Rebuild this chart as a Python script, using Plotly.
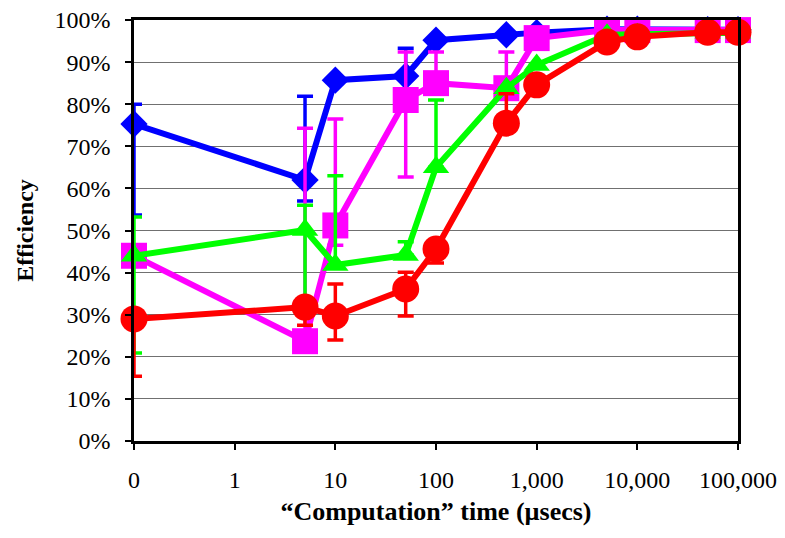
import plotly.graph_objects as go

x_vals = [0.1, 5, 10, 50, 100, 500, 1000, 5000, 10000, 50000, 100000]

blue_y = [0.753, 0.620, 0.857, 0.867, 0.952, 0.965, 0.970, 0.978, 0.978, 0.977, 0.977]
blue_plus = [0.047, 0.199, 0, 0.066, 0, 0, 0, 0, 0, 0, 0]
blue_minus = [0.216, 0.050, 0, 0, 0, 0, 0, 0, 0, 0, 0]

mag_y = [0.440, 0.237, 0.512, 0.810, 0.850, 0.838, 0.957, 0.976, 0.976, 0.976, 0.976]
mag_plus = [0, 0.506, 0.253, 0.114, 0.074, 0.086, 0, 0, 0, 0, 0]
mag_minus = [0, 0, 0.047, 0.183, 0, 0, 0, 0, 0, 0, 0]

green_y = [0.440, 0.501, 0.418, 0.442, 0.650, 0.838, 0.893, 0.965, 0.966, 0.970, 0.970]
green_plus = [0.092, 0.059, 0.212, 0.031, 0.160, 0, 0, 0, 0, 0, 0]
green_minus = [0.231, 0.200, 0, 0, 0, 0, 0, 0, 0, 0, 0]

red_y = [0.290, 0.318, 0.297, 0.361, 0.456, 0.755, 0.846, 0.948, 0.960, 0.971, 0.971]
red_plus = [0, 0, 0.076, 0.040, 0, 0.070, 0, 0, 0, 0, 0]
red_minus = [0.136, 0.043, 0.057, 0.064, 0.033, 0, 0, 0, 0, 0, 0]

x_tickvals = [0.1, 1, 10, 100, 1000, 10000, 100000]
x_ticktext = ["0", "1", "10", "100", "1,000", "10,000", "100,000"]
y_tickvals = [i / 10 for i in range(11)]

series = [
    ("blue", "#0000FF", "diamond", 21, blue_y, blue_plus, blue_minus),
    ("magenta", "#FF00FF", "square", 26, mag_y, mag_plus, mag_minus),
    ("green", "#00FF00", "triangle-up", 23, green_y, green_plus, green_minus),
    ("red", "#FF0000", "circle", 27, red_y, red_plus, red_minus),
]

fig = go.Figure()
for name, color, sym, size, y, p, m in series:
    fig.add_trace(go.Scatter(
        x=x_vals, y=y, name=name, mode="lines+markers",
        line=dict(color=color, width=6),
        marker=dict(symbol=sym, size=size, color=color, line=dict(width=0)),
        error_y=dict(type="data", symmetric=False, array=p, arrayminus=m,
                     color=color, thickness=3.5, width=8),
        cliponaxis=False,
        showlegend=False,
    ))

font_family = "Liberation Serif"
fig.update_layout(
    width=785, height=538,
    margin=dict(l=134, r=47, t=20, b=97, autoexpand=False),
    paper_bgcolor="white", plot_bgcolor="white",
    font=dict(family=font_family, size=24, color="black"),
    showlegend=False,
)
fig.update_xaxes(
    type="log", range=[-1, 5], automargin=False,
    tickvals=x_tickvals, ticktext=x_ticktext,
    ticks="outside", ticklen=6, tickwidth=1.5, tickcolor="black",
    showline=True, linecolor="black", linewidth=2.5, mirror=True,
    showgrid=False, zeroline=False,
    ticklabelstandoff=9,
    title=dict(text="<b>“Computation” time (µsecs)</b>", font=dict(size=26), standoff=11),
)
fig.update_yaxes(
    range=[0, 1], tickvals=y_tickvals, tickformat=".0%", automargin=False,
    ticks="outside", ticklen=6, tickwidth=1.5, tickcolor="black",
    showline=True, linecolor="black", linewidth=2.5, mirror=True,
    showgrid=True, gridcolor="#707070", gridwidth=1.2, zeroline=False,
    ticklabelstandoff=10,
    title=dict(text="<b>Efficiency</b>", font=dict(size=24), standoff=15),
)

fig.write_html("out.html")
